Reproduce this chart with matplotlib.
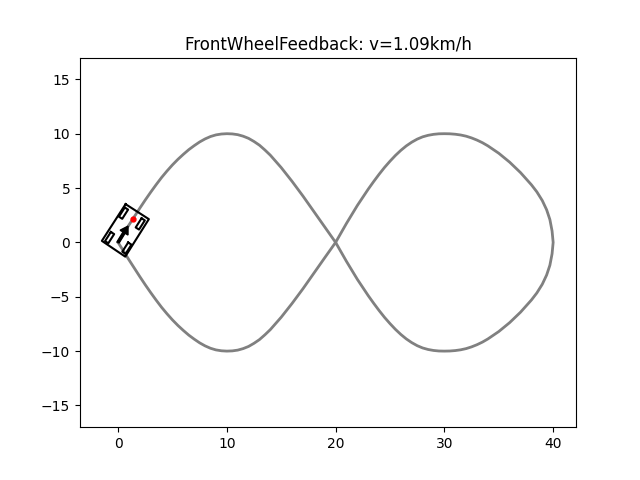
import numpy as np
import matplotlib
matplotlib.use("Agg")
import matplotlib.pyplot as plt

# upper half of the figure-eight
left_x = [0.0, 0.5, 1.0, 1.5, 2.0, 2.5, 3.0, 3.5, 4.0, 4.5, 5.0, 5.5, 6.0, 6.5, 7.0, 7.5, 8.0, 8.5, 9.0, 9.5, 10.0,
          10.5, 11.0, 11.5, 12.0, 12.5, 13.0, 13.5, 14.0, 15.0, 16.0, 17.0, 18.0, 19.0, 20.0]
left_y = [0.0, 0.8, 1.6, 2.38, 3.15, 3.9, 4.62, 5.31, 5.97, 6.57, 7.13, 7.64, 8.1, 8.53, 8.9, 9.24, 9.52, 9.74, 9.89, 9.97, 10.0,
          9.98, 9.91, 9.77, 9.57, 9.28, 8.94, 8.5, 8.02, 6.88, 5.61, 4.26, 2.84, 1.41, 0.0]
right_x = [20.0, 21.0, 22.0, 23.0, 23.5, 24.0, 24.5, 25.0, 25.5, 26.0, 26.5, 27.0, 27.5, 28.0, 28.5, 29.0, 29.5, 30.0,
           30.5, 31.0, 31.5, 32.0, 32.5, 33.0, 33.5, 34.0, 35.0, 36.0, 37.0, 38.0, 38.5, 39.0, 39.4, 39.7, 39.9, 40.0]
right_y = [0.0, 1.75, 3.4, 4.9, 5.6, 6.27, 6.9, 7.47, 8.0, 8.47, 8.88, 9.22, 9.5, 9.71, 9.85, 9.94, 9.99, 10.0,
           9.99, 9.95, 9.88, 9.77, 9.61, 9.41, 9.17, 8.88, 8.2, 7.38, 6.42, 5.3, 4.65, 3.85, 3.0, 2.1, 1.05, 0.0]

car_x = [0.69, 2.83, 0.66, -1.49, 0.69]
car_y = [3.52, 2.14, -1.31, 0.14, 3.52]
wheel_x = [0.5, 2.04, -0.78, 0.81]
wheel_y = [2.69, 1.7, 0.44, -0.53]
car_yaw = 57.5
rear_x, rear_y = 0.0, 0.0
arrow_dx, arrow_dy = 0.55, 0.9
target_x, target_y = 1.36, 2.14


def draw_wheel(ax, cx, cy, yaw):
    # wheel outline is a small rotated box
    c, s = np.cos(np.radians(yaw)), np.sin(np.radians(yaw))
    l, w = 0.5, 0.18
    px = np.array([l, l, -l, -l, l])
    py = np.array([w, -w, -w, w, w])
    ax.plot(cx + px * c - py * s, cy + px * s + py * c, color="black", linewidth=1.5)


fig, ax = plt.subplots(figsize=(6.4, 4.8), dpi=100)

# full track: up the left lobe, down the right one, and back
xs = left_x + right_x[1:]
ys = left_y + [-v for v in right_y[1:]]
xs = xs + right_x[::-1][1:] + left_x[::-1][1:]
ys = ys + right_y[::-1][1:] + [-v for v in left_y[::-1][1:]]
ax.plot(xs, ys, color="gray", linewidth=2)

ax.plot(car_x, car_y, color="black", linewidth=1.5)
for wx, wy in zip(wheel_x, wheel_y):
    draw_wheel(ax, wx, wy, car_yaw)

ax.arrow(rear_x, rear_y, arrow_dx, arrow_dy, color="black", width=0.22,
         head_width=0.85, head_length=0.7, length_includes_head=False, zorder=5)
ax.plot(target_x, target_y, ".", color="red", markersize=7, zorder=6)

ax.set_xlim(-3.5, 42.1)
ax.set_ylim(-17, 17)
ax.set_title("FrontWheelFeedback: v=1.09km/h")
plt.savefig("out.png", dpi=100)
